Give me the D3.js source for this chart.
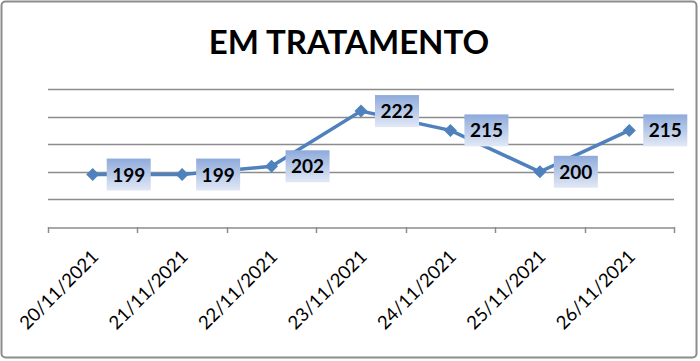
<!DOCTYPE html>
<html><head><meta charset="utf-8">
<script src="https://cdn.jsdelivr.net/npm/d3@7"></script>
<style>body{margin:0;background:#fff}svg{display:block}</style>
</head><body>
<script>
const categories = ["20/11/2021","21/11/2021","22/11/2021","23/11/2021","24/11/2021","25/11/2021","26/11/2021"];
const values = [199,199,202,222,215,200,215];
const yTicks = [180,190,200,210,220,230];
const title = "EM TRATAMENTO";

const W=700,H=361;
const svg=d3.select("body").append("svg").attr("width",W).attr("height",H);
const defs=svg.append("defs");
const g1=defs.append("linearGradient").attr("id","lbl").attr("x1",0).attr("y1",0).attr("x2",0).attr("y2",1);
g1.append("stop").attr("offset","0%").attr("stop-color","#8eaadb");
g1.append("stop").attr("offset","100%").attr("stop-color","#e2e9f6");

svg.append("rect").attr("x",1.5).attr("y",1.5).attr("width",695).attr("height",356).attr("rx",4)
  .attr("fill","#fff").attr("stroke","#8c8c8c").attr("stroke-width",2);

svg.append("text").attr("x",349).attr("y",54).attr("text-anchor","middle")
  .attr("font-family","Lato, 'Open Sans', sans-serif").attr("font-weight","bold").attr("font-size",33)
  .attr("fill","#000").text(title);

const x=d3.scaleBand().domain(categories).range([48,674]);
const y=d3.scaleLinear().domain([180,230]).range([227,89]);

// gridlines
svg.append("g").selectAll("line").data(yTicks.slice(1)).join("line")
  .attr("x1",48).attr("x2",674).attr("y1",d=>Math.round(y(d))+0.5).attr("y2",d=>Math.round(y(d))+0.5)
  .attr("stroke","#8c8c8c").attr("stroke-width",1.5);

// x axis
const ax=svg.append("g").attr("transform",`translate(0,${Math.round(y(180))+0.5})`)
  .call(d3.axisBottom(x).tickSize(0).tickFormat(""));
ax.select(".domain").attr("stroke","#8c8c8c").attr("stroke-width",1.5);
const edges=categories.map(c=>x(c)).concat([x.range()[1]]);
svg.append("g").selectAll("line").data(edges).join("line")
  .attr("x1",d=>Math.round(d)+0.5).attr("x2",d=>Math.round(d)+0.5)
  .attr("y1",y(180)).attr("y2",y(180)+6).attr("stroke","#8c8c8c").attr("stroke-width",1.5);

// x labels
svg.append("g").selectAll("text").data(categories).join("text")
  .attr("transform",d=>`translate(${x(d)+x.bandwidth()/2+7},${y(180)+31}) rotate(-45)`)
  .attr("text-anchor","end").attr("font-family","Lato, 'Open Sans', sans-serif").attr("font-size",18.5)
  .attr("fill","#000").text(d=>d);

// line
const cx=d=>x(d)+x.bandwidth()/2;
svg.append("path").datum(values)
  .attr("d",d3.line().x((d,i)=>cx(categories[i])).y(d=>y(d)))
  .attr("fill","none").attr("stroke","#4f81bd").attr("stroke-width",3.5);

// markers (square rotated 45deg)
svg.append("g").selectAll("path").data(values).join("path")
  .attr("d",d3.symbol(d3.symbolSquare,85))
  .attr("transform",(d,i)=>`translate(${cx(categories[i])},${y(d)}) rotate(45)`)
  .attr("fill","#4f81bd");

// labels
const lg=svg.append("g").selectAll("g").data(values).join("g")
  .attr("transform",(d,i)=>`translate(${cx(categories[i])+14},${y(d)})`);
lg.append("rect").attr("x",0).attr("y",-16).attr("width",44).attr("height",32).attr("fill","url(#lbl)");
lg.append("text").attr("x",22).attr("y",7).attr("text-anchor","middle")
  .attr("font-family","Lato, 'Open Sans', sans-serif").attr("font-size",19).attr("font-weight","bold")
  .attr("fill","#000").text(d=>d);
</script>
</body></html>
